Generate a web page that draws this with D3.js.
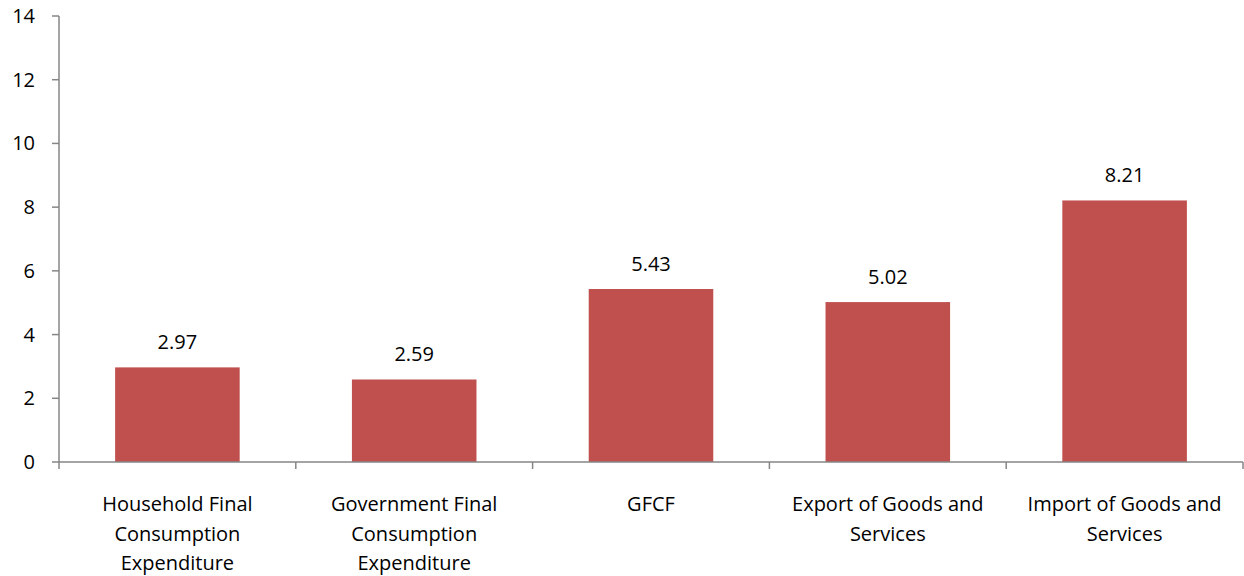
<!DOCTYPE html>
<html>
<head>
<meta charset="utf-8">
<script src="https://cdn.jsdelivr.net/npm/d3@7"></script>
<style>
body { margin: 0; background: #fff; }
text { font-family: "Open Sans", sans-serif; fill: #000; }
</style>
</head>
<body>
<div id="chart"></div>
<script>
var categories = [
	["Household Final", "Consumption", "Expenditure"],
	["Government Final", "Consumption", "Expenditure"],
	["GFCF"],
	["Export of Goods and", "Services"],
	["Import of Goods and", "Services"]
];
var values = [2.97, 2.59, 5.43, 5.02, 8.21];
var yTicks = [0, 2, 4, 6, 8, 10, 12, 14];

var W = 1244, H = 576;
var plotLeft = 59, plotRight = 1243, plotTop = 16, plotBottom = 462;
var fontSize = "20px";

var svg = d3.select("#chart").append("svg").attr("width", W).attr("height", H);

var x = d3.scaleBand().domain(d3.range(values.length)).range([plotLeft, plotRight])
	.paddingInner(0.474).paddingOuter(0.237);
var y = d3.scaleLinear().domain([0, 14]).range([plotBottom, plotTop]);

var axisColor = "#868686";

// y axis
svg.append("line").attr("x1", plotLeft).attr("x2", plotLeft).attr("y1", y(14)).attr("y2", y(0))
	.attr("stroke", axisColor).attr("stroke-width", 1.5);
svg.selectAll("line.ytick").data(yTicks).enter().append("line").attr("class", "ytick")
	.attr("x1", plotLeft - 7).attr("x2", plotLeft).attr("y1", function (d) { return y(d); }).attr("y2", function (d) { return y(d); })
	.attr("stroke", axisColor).attr("stroke-width", 1.5);
svg.selectAll("text.ylab").data(yTicks).enter().append("text").attr("class", "ylab")
	.attr("x", 35).attr("y", function (d) { return y(d); }).attr("dy", "0.35em")
	.attr("text-anchor", "end").style("font-size", fontSize).text(function (d) { return d; });

// bars
svg.selectAll("rect.bar").data(values).enter().append("rect").attr("class", "bar")
	.attr("x", function (d, i) { return x(i); })
	.attr("y", function (d) { return y(d); })
	.attr("width", x.bandwidth())
	.attr("height", function (d) { return y(0) - y(d); })
	.attr("fill", "#C0504D");

svg.selectAll("text.val").data(values).enter().append("text").attr("class", "val")
	.attr("x", function (d, i) { return x(i) + x.bandwidth() / 2; })
	.attr("y", function (d) { return y(d) - 18; })
	.attr("text-anchor", "middle").style("font-size", fontSize)
	.text(function (d) { return d.toFixed(2); });

// x axis
svg.append("line").attr("x1", plotLeft).attr("x2", plotRight).attr("y1", plotBottom).attr("y2", plotBottom)
	.attr("stroke", axisColor).attr("stroke-width", 1.5);
var step = x.step();
svg.selectAll("line.xtick").data(d3.range(values.length + 1)).enter().append("line").attr("class", "xtick")
	.attr("x1", function (d) { return plotLeft + d * step; }).attr("x2", function (d) { return plotLeft + d * step; })
	.attr("y1", plotBottom).attr("y2", plotBottom + 7)
	.attr("stroke", axisColor).attr("stroke-width", 1.5);

categories.forEach(function (lines, i) {
	var t = svg.append("text").attr("x", x(i) + x.bandwidth() / 2).attr("y", 511)
		.attr("text-anchor", "middle").style("font-size", fontSize);
	lines.forEach(function (l, j) {
		t.append("tspan").attr("x", x(i) + x.bandwidth() / 2).attr("dy", j == 0 ? 0 : 29.5).text(l);
	});
});
</script>
</body>
</html>
